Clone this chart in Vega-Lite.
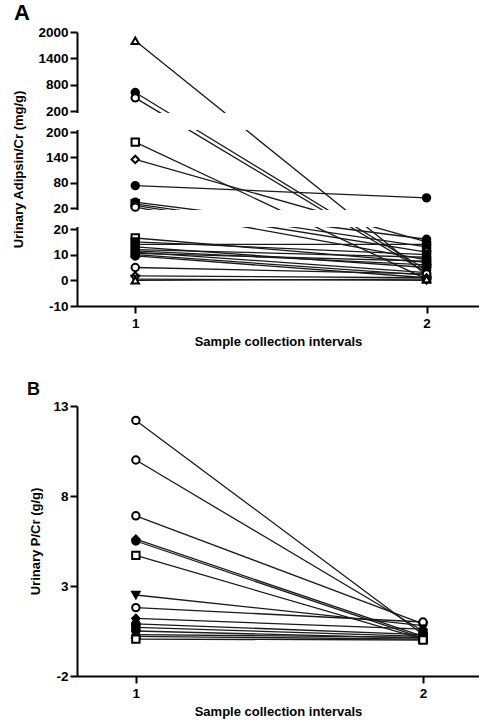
{
  "$schema": "https://vega.github.io/schema/vega-lite/v6.json",
  "background": "white",
  "autosize": {"type": "pad"},
  "padding": {"left": 11, "top": 2, "right": 0, "bottom": 0},
  "bounds": "flush",
  "spacing": 100,
  "config": {
    "font": "Liberation Sans",
    "view": {"stroke": null},
    "axis": {
      "grid": false,
      "domainColor": "black",
      "domainWidth": 2,
      "tickColor": "black",
      "tickWidth": 2,
      "tickSize": 7,
      "labelColor": "black",
      "labelFont": "Liberation Sans",
      "labelFontSize": 13.5,
      "labelFontWeight": "bold",
      "labelPadding": 2,
      "labelOverlap": false,
      "titleColor": "black",
      "titleFont": "Liberation Sans",
      "titleFontSize": 13,
      "titleFontWeight": "bold"
    }
  },
  "datasets": {
    "a": [
      {"id": "a1", "t": 1, "v": 1800, "shape": "triangle-up", "fill": "open"},
      {"id": "a1", "t": 2, "v": 2, "shape": "triangle-up", "fill": "open"},
      {"id": "a2", "t": 1, "v": 620, "shape": "circle", "fill": "filled"},
      {"id": "a2", "t": 2, "v": 4, "shape": "circle", "fill": "filled"},
      {"id": "a3", "t": 1, "v": 500, "shape": "circle", "fill": "open"},
      {"id": "a3", "t": 2, "v": 3, "shape": "circle", "fill": "open"},
      {"id": "a4", "t": 1, "v": 176, "shape": "square", "fill": "open"},
      {"id": "a4", "t": 2, "v": 0.5, "shape": "square", "fill": "open"},
      {"id": "a5", "t": 1, "v": 135, "shape": "diamond", "fill": "open"},
      {"id": "a5", "t": 2, "v": 15, "shape": "diamond", "fill": "open"},
      {"id": "a6", "t": 1, "v": 73, "shape": "circle", "fill": "filled"},
      {"id": "a6", "t": 2, "v": 44, "shape": "circle", "fill": "filled"},
      {"id": "a7", "t": 1, "v": 34, "shape": "circle", "fill": "filled"},
      {"id": "a7", "t": 2, "v": 16, "shape": "circle", "fill": "filled"},
      {"id": "a8", "t": 1, "v": 30, "shape": "square", "fill": "filled"},
      {"id": "a8", "t": 2, "v": 13, "shape": "square", "fill": "filled"},
      {"id": "a9", "t": 1, "v": 26, "shape": "circle", "fill": "open"},
      {"id": "a9", "t": 2, "v": 11, "shape": "circle", "fill": "open"},
      {"id": "a10", "t": 1, "v": 22, "shape": "circle", "fill": "open"},
      {"id": "a10", "t": 2, "v": 8, "shape": "circle", "fill": "open"},
      {"id": "a11", "t": 1, "v": 16.5, "shape": "square", "fill": "open"},
      {"id": "a11", "t": 2, "v": 7, "shape": "square", "fill": "open"},
      {"id": "a12", "t": 1, "v": 15, "shape": "square", "fill": "filled"},
      {"id": "a12", "t": 2, "v": 10, "shape": "square", "fill": "filled"},
      {"id": "a13", "t": 1, "v": 14, "shape": "circle", "fill": "filled"},
      {"id": "a13", "t": 2, "v": 14, "shape": "circle", "fill": "filled"},
      {"id": "a14", "t": 1, "v": 13, "shape": "diamond", "fill": "filled"},
      {"id": "a14", "t": 2, "v": 5, "shape": "diamond", "fill": "filled"},
      {"id": "a15", "t": 1, "v": 12, "shape": "circle", "fill": "filled"},
      {"id": "a15", "t": 2, "v": 9, "shape": "circle", "fill": "filled"},
      {"id": "a16", "t": 1, "v": 11.5, "shape": "square", "fill": "filled"},
      {"id": "a16", "t": 2, "v": 6, "shape": "square", "fill": "filled"},
      {"id": "a17", "t": 1, "v": 11, "shape": "circle", "fill": "filled"},
      {"id": "a17", "t": 2, "v": 3, "shape": "circle", "fill": "filled"},
      {"id": "a18", "t": 1, "v": 10.5, "shape": "triangle-up", "fill": "filled"},
      {"id": "a18", "t": 2, "v": 7.5, "shape": "triangle-up", "fill": "filled"},
      {"id": "a19", "t": 1, "v": 10, "shape": "circle", "fill": "filled"},
      {"id": "a19", "t": 2, "v": 2, "shape": "circle", "fill": "filled"},
      {"id": "a20", "t": 1, "v": 9.5, "shape": "circle", "fill": "filled"},
      {"id": "a20", "t": 2, "v": 1, "shape": "circle", "fill": "filled"},
      {"id": "a21", "t": 1, "v": 5, "shape": "circle", "fill": "open"},
      {"id": "a21", "t": 2, "v": 2.5, "shape": "circle", "fill": "open"},
      {"id": "a22", "t": 1, "v": 1.7, "shape": "diamond", "fill": "open"},
      {"id": "a22", "t": 2, "v": 1, "shape": "diamond", "fill": "open"},
      {"id": "a23", "t": 1, "v": 0.5, "shape": "triangle-down", "fill": "open"},
      {"id": "a23", "t": 2, "v": 0, "shape": "triangle-down", "fill": "open"},
      {"id": "a24", "t": 1, "v": 0, "shape": "triangle-up", "fill": "open"},
      {"id": "a24", "t": 2, "v": 0.5, "shape": "triangle-up", "fill": "open"}
    ],
    "b": [
      {"id": "b1", "t": 1, "v": 12.2, "shape": "circle", "fill": "open"},
      {"id": "b1", "t": 2, "v": 0.3, "shape": "circle", "fill": "open"},
      {"id": "b2", "t": 1, "v": 10.0, "shape": "circle", "fill": "open"},
      {"id": "b2", "t": 2, "v": 0.5, "shape": "circle", "fill": "open"},
      {"id": "b3", "t": 1, "v": 6.9, "shape": "circle", "fill": "open"},
      {"id": "b3", "t": 2, "v": 0.9, "shape": "circle", "fill": "open"},
      {"id": "b4", "t": 1, "v": 5.6, "shape": "diamond", "fill": "filled"},
      {"id": "b4", "t": 2, "v": 0.2, "shape": "diamond", "fill": "filled"},
      {"id": "b5", "t": 1, "v": 5.5, "shape": "circle", "fill": "filled"},
      {"id": "b5", "t": 2, "v": 0.1, "shape": "circle", "fill": "filled"},
      {"id": "b6", "t": 1, "v": 4.7, "shape": "square", "fill": "open"},
      {"id": "b6", "t": 2, "v": 0.05, "shape": "square", "fill": "open"},
      {"id": "b7", "t": 1, "v": 2.5, "shape": "triangle-down", "fill": "filled"},
      {"id": "b7", "t": 2, "v": 0.8, "shape": "triangle-down", "fill": "filled"},
      {"id": "b8", "t": 1, "v": 1.8, "shape": "circle", "fill": "open"},
      {"id": "b8", "t": 2, "v": 1.0, "shape": "circle", "fill": "open"},
      {"id": "b9", "t": 1, "v": 1.2, "shape": "diamond", "fill": "filled"},
      {"id": "b9", "t": 2, "v": 0.6, "shape": "diamond", "fill": "filled"},
      {"id": "b10", "t": 1, "v": 0.9, "shape": "circle", "fill": "filled"},
      {"id": "b10", "t": 2, "v": 0.3, "shape": "circle", "fill": "filled"},
      {"id": "b11", "t": 1, "v": 0.7, "shape": "square", "fill": "filled"},
      {"id": "b11", "t": 2, "v": 0.2, "shape": "square", "fill": "filled"},
      {"id": "b12", "t": 1, "v": 0.5, "shape": "circle", "fill": "filled"},
      {"id": "b12", "t": 2, "v": 0.1, "shape": "circle", "fill": "filled"},
      {"id": "b13", "t": 1, "v": 0.3, "shape": "triangle-up", "fill": "filled"},
      {"id": "b13", "t": 2, "v": 0.15, "shape": "triangle-up", "fill": "filled"},
      {"id": "b14", "t": 1, "v": 0.2, "shape": "circle", "fill": "filled"},
      {"id": "b14", "t": 2, "v": 0.05, "shape": "circle", "fill": "filled"},
      {"id": "b15", "t": 1, "v": 0.05, "shape": "square", "fill": "open"},
      {"id": "b15", "t": 2, "v": 0.0, "shape": "square", "fill": "open"}
    ]
  },
  "vconcat": [
    {
      "width": 402,
      "height": 274,
      "title": {"text": "A", "anchor": "start", "frame": "group", "fontSize": 22, "fontWeight": "bold", "color": "black", "dx": -63, "offset": 0},
      "layer": [
        {
          "data": {"name": "a"},
          "mark": {"type": "line", "color": "#1a1a1a", "strokeWidth": 1.3},
          "encoding": {
            "x": {"field": "t", "type": "quantitative", "scale": {"domain": [0.8, 2.18], "nice": false, "zero": false},
              "axis": {"values": [1, 2], "tickCount": 20, "labelExpr": "'' + datum.value", "title": "Sample collection intervals", "labelPadding": 3, "titlePadding": 6, "labelOverlap": false}},
            "y": {"field": "v", "type": "quantitative",
              "scale": {"domain": [-10, 20, 20.001, 200, 200.01, 2000], "range": [274, 197, 176, 100, 79, 0], "nice": false, "zero": false},
              "axis": {"values": [-10, 0, 10, 20, 20.001, 80, 140, 200, 200.01, 800, 1400, 2000], "tickCount": 30, "labelExpr": "'' + round(datum.value)", "title": "Urinary Adipsin/Cr (mg/g)", "titleX": -52, "labelOverlap": false, "labelBound": false}},
            "detail": {"field": "id"}
          }
        },
        {
          "data": {"values": [{}]},
          "mark": {"type": "rect", "color": "white"},
          "encoding": {
            "x": {"datum": 0.775, "type": "quantitative"},
            "x2": {"datum": 2.18},
            "y": {"datum": 20.0001, "type": "quantitative"},
            "y2": {"datum": 20.0009}
          }
        },
        {
          "data": {"values": [{}]},
          "mark": {"type": "rect", "color": "white"},
          "encoding": {
            "x": {"datum": 0.775, "type": "quantitative"},
            "x2": {"datum": 2.18},
            "y": {"datum": 200.001, "type": "quantitative"},
            "y2": {"datum": 200.009}
          }
        },
        {
          "data": {"name": "a"},
          "mark": {"type": "point", "size": 55, "stroke": "black", "strokeWidth": 2, "opacity": 1},
          "encoding": {
            "x": {"field": "t", "type": "quantitative"},
            "y": {"field": "v", "type": "quantitative"},
            "shape": {"field": "shape", "type": "nominal", "scale": {"domain": ["circle", "square", "diamond", "triangle-up", "triangle-down"], "range": ["circle", "square", "diamond", "triangle-up", "triangle-down"]}, "legend": null},
            "fill": {"field": "fill", "type": "nominal", "scale": {"domain": ["filled", "open"], "range": ["black", "white"]}, "legend": null}
          }
        }
      ]
    },
    {
      "width": 402,
      "height": 270,
      "title": {"text": "B", "anchor": "start", "frame": "group", "fontSize": 18, "fontWeight": "bold", "color": "black", "dx": -50, "offset": 0},
      "layer": [
        {
          "data": {"name": "b"},
          "mark": {"type": "line", "color": "#1a1a1a", "strokeWidth": 1.3},
          "encoding": {
            "x": {"field": "t", "type": "quantitative", "scale": {"domain": [0.795, 2.195], "nice": false, "zero": false},
              "axis": {"values": [1, 2], "tickCount": 20, "labelExpr": "'' + datum.value", "title": "Sample collection intervals", "labelPadding": 3, "titlePadding": 6, "labelOverlap": false}},
            "y": {"field": "v", "type": "quantitative",
              "scale": {"domain": [-2, 13], "nice": false, "zero": false},
              "axis": {"values": [-2, 3, 8, 13], "tickCount": 20, "labelExpr": "'' + datum.value", "title": "Urinary P/Cr (g/g)", "titleX": -35, "labelOverlap": false}},
            "detail": {"field": "id"}
          }
        },
        {
          "data": {"name": "b"},
          "mark": {"type": "point", "size": 55, "stroke": "black", "strokeWidth": 2, "opacity": 1},
          "encoding": {
            "x": {"field": "t", "type": "quantitative"},
            "y": {"field": "v", "type": "quantitative"},
            "shape": {"field": "shape", "type": "nominal", "scale": {"domain": ["circle", "square", "diamond", "triangle-up", "triangle-down"], "range": ["circle", "square", "diamond", "triangle-up", "triangle-down"]}, "legend": null},
            "fill": {"field": "fill", "type": "nominal", "scale": {"domain": ["filled", "open"], "range": ["black", "white"]}, "legend": null}
          }
        }
      ]
    }
  ]
}
